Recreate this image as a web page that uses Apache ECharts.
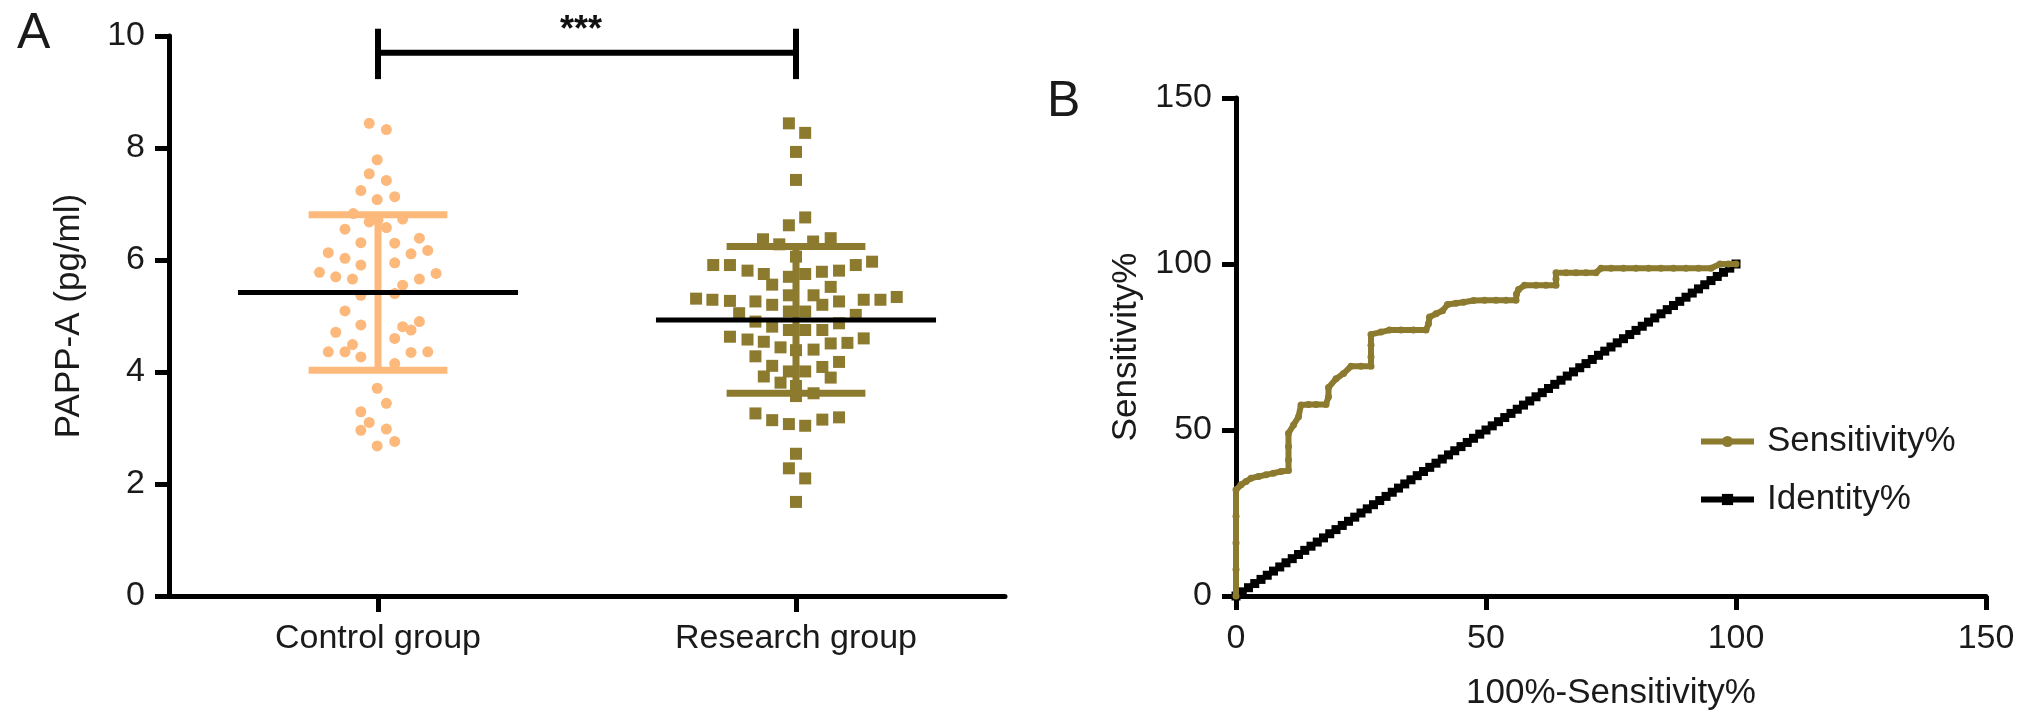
<!DOCTYPE html>
<html>
<head>
<meta charset="utf-8">
<script src="https://cdn.jsdelivr.net/npm/echarts@6/dist/echarts.min.js"></script>
<style>
html,body{margin:0;padding:0;background:#fff;}
#chart{width:2031px;height:727px;}
</style>
</head>
<body>
<div id="chart"></div>
<script>
// ---------- DATA ----------
const categories = ['Control group', 'Research group'];

// Control group dots: [horizontal jitter (category units), value]
const controlPoints = [
  [-0.021,8.44],[0.020,8.33],[-0.002,7.79],[-0.021,7.54],[0.020,7.42],[-0.041,7.24],[-0.002,7.08],[0.040,7.13],
  [-0.059,6.83],[-0.021,6.68],[0.000,6.71],[0.020,6.58],[0.059,6.73],[-0.079,6.55],[-0.041,6.31],[0.040,6.30],
  [0.099,6.39],[-0.119,6.13],[-0.079,6.03],[-0.041,5.91],[0.040,5.95],[0.079,6.11],[0.119,6.17],[-0.140,5.78],
  [-0.101,5.70],[-0.061,5.66],[0.099,5.66],[0.139,5.76],[0.059,5.55],[-0.041,5.37],[0.040,5.40],[-0.079,5.09],
  [-0.041,4.84],[-0.101,4.71],[0.059,4.81],[0.079,4.75],[0.099,4.90],[0.040,4.60],[-0.061,4.49],[-0.119,4.36],
  [-0.079,4.36],[-0.041,4.27],[0.079,4.35],[0.119,4.36],[0.040,4.15],[-0.002,3.71],[0.020,3.44],[-0.041,3.29],
  [-0.021,3.10],[-0.041,2.96],[0.020,2.98],[-0.002,2.68],[0.040,2.76]
];

// Research group squares: [horizontal jitter (category units), value]
const researchPoints = [
  [-0.017,8.44],[0.022,8.27],[0,7.93],[0,7.43],[0.022,6.76],[-0.017,6.62],[-0.079,6.37],[-0.040,6.28],
  [0.041,6.33],[0.083,6.39],[0,6.06],[-0.198,5.91],[-0.158,5.91],[-0.116,5.81],[-0.077,5.75],[0.182,5.97],
  [0.143,5.91],[0.103,5.81],[0.062,5.79],[-0.057,5.56],[-0.017,5.70],[0.022,5.75],[0.083,5.52],[-0.239,5.31],
  [-0.200,5.29],[-0.158,5.27],[-0.097,5.26],[-0.057,5.20],[-0.017,5.37],[0.042,5.37],[0.063,5.20],[0.103,5.26],
  [0.162,5.29],[0.202,5.29],[0.241,5.34],[-0.136,5.05],[-0.017,5.08],[0.022,5.08],[0.143,5.02],[-0.097,4.90],
  [-0.057,4.81],[0.103,4.87],[-0.017,4.75],[0.022,4.75],[0.063,4.75],[-0.158,4.63],[-0.116,4.58],[-0.077,4.54],
  [0.083,4.51],[0.123,4.52],[0.162,4.60],[-0.037,4.44],[0,4.39],[0.042,4.40],[-0.097,4.28],[0.103,4.18],
  [-0.057,4.11],[-0.017,4.01],[0.022,4.01],[0.063,4.09],[-0.077,3.92],[0.083,3.90],[-0.037,3.81],[0,3.75],
  [0,3.57],[0.042,3.62],[-0.097,3.26],[-0.057,3.14],[-0.017,3.07],[0.022,3.04],[0.063,3.15],[0.103,3.19],
  [0,2.54],[-0.017,2.28],[0.022,2.10],[0,1.68]
];

const groupMeans = [5.42, 4.93];
const groupSDs = [1.39, 1.31];

// significance bracket: [y of bar, y of tick bottom, y of tick top, y of text]
const bracketLevels = [9.70, 9.23, 10.13, 10.16];
const bracketLabel = '***';

const yTicksA = [0, 2, 4, 6, 8, 10];
const ticksB = [0, 50, 100, 150];

// ROC curve points [100%-Specificity%, Sensitivity%]
const rocPoints = [
  [0,0],[0,8],[0,16],[0,24],[0,32],[1,33.5],[2,34.5],[3,35.5],[4.5,36],[6,36.5],[7.5,37],[9,37.5],[10.5,37.8],
  [10.5,41],[10.5,45],[10.5,49],[11.5,51.5],[12.5,54],[13,57.5],[14.5,57.7],[16,57.7],[18,57.7],[18.5,60],
  [18.5,62.8],[20,65.4],[21.5,67],[23,69.2],[25,69.2],[27,69.2],[27,72],[27,75.5],[27,78.8],[29,79.5],
  [30.7,80.1],[33,80.1],[35.5,80.1],[38,80.1],[38.5,82],[38.7,84],[40,85],[41.3,85.9],[42.3,87.8],[44,88.2],
  [45.5,88.5],[47.5,89],[49.7,89.1],[52,89.1],[54,89.1],[56,89.1],[56.1,91],[56.5,92.3],[57.7,93.6],[60,93.6],
  [62,93.6],[64,93.6],[64,95.5],[64,97.4],[66,97.4],[68,97.4],[70,97.4],[72,97.4],[73,98.7],[75,98.7],
  [77.5,98.7],[80,98.7],[82.5,98.7],[85,98.7],[87.5,98.7],[90,98.7],[92.5,98.7],[95,98.7],[96.8,100],
  [98.5,100],[100,100]
];

// Identity line values (x = y)
const identityValues = [0,1.25,2.5,3.75,5,6.25,7.5,8.75,10,11.25,12.5,13.75,15,16.25,17.5,18.75,20,21.25,22.5,23.75,
  25,26.25,27.5,28.75,30,31.25,32.5,33.75,35,36.25,37.5,38.75,40,41.25,42.5,43.75,45,46.25,47.5,48.75,
  50,51.25,52.5,53.75,55,56.25,57.5,58.75,60,61.25,62.5,63.75,65,66.25,67.5,68.75,70,71.25,72.5,73.75,
  75,76.25,77.5,78.75,80,81.25,82.5,83.75,85,86.25,87.5,88.75,90,91.25,92.5,93.75,95,96.25,97.5,98.75,100];

// ---------- STYLE ----------
const FONT = "'Liberation Sans', Arial, Helvetica, sans-serif";
const TXT = '#1a1a1a';
const ORANGE = '#FDB87B';
const OLIVE = '#8C7B2F';
const groupColors = [ORANGE, OLIVE];

const chart = echarts.init(document.getElementById('chart'), null, {renderer: 'canvas'});

const axisCommon = {
  axisLine: {show: true, onZero: false, lineStyle: {color: '#000', width: 5}},
  axisTick: {show: true, inside: false, length: 14, lineStyle: {color: '#000', width: 5}},
  splitLine: {show: false},
  axisLabel: {color: TXT, fontSize: 34, fontFamily: FONT, margin: 24},
  nameTextStyle: {color: TXT, fontSize: 35, fontFamily: FONT}
};

const option = {
  animation: false,
  backgroundColor: '#fff',
  textStyle: {fontFamily: FONT},
  title: [
    {text: 'A', left: 12, top: 4, textStyle: {fontSize: 50, fontWeight: 'normal', color: TXT, fontFamily: FONT}},
    {text: 'B', left: 1042, top: 72, textStyle: {fontSize: 50, fontWeight: 'normal', color: TXT, fontFamily: FONT}}
  ],
  legend: {
    show: true,
    orient: 'vertical',
    left: 1693,
    top: 419,
    itemGap: 23,
    itemWidth: 53,
    itemHeight: 14,
    data: ['Sensitivity%', 'Identity%'],
    lineStyle: {width: 6},
    textStyle: {color: TXT, fontSize: 35, fontFamily: FONT, padding: [0, 0, 0, 8]}
  },
  grid: [
    {left: 169, top: 36, width: 836, height: 560, containLabel: false},
    {left: 1236, top: 98, width: 750, height: 498, containLabel: false}
  ],
  xAxis: [
    Object.assign({}, axisCommon, {
      type: 'category', gridIndex: 0, data: categories, boundaryGap: true,
      axisTick: Object.assign({}, axisCommon.axisTick, {alignWithLabel: true, length: 16}),
      axisLabel: Object.assign({}, axisCommon.axisLabel, {margin: 26})
    }),
    {type: 'value', gridIndex: 0, min: 0.5, max: 2.5, show: false},
    Object.assign({}, axisCommon, {
      type: 'value', gridIndex: 1, min: 0, max: 150, interval: 50,
      name: '100%-Sensitivity%', nameLocation: 'middle', nameGap: 80,
      axisLabel: Object.assign({}, axisCommon.axisLabel, {margin: 26})
    })
  ],
  yAxis: [
    Object.assign({}, axisCommon, {
      type: 'value', gridIndex: 0, min: yTicksA[0], max: yTicksA[yTicksA.length - 1], interval: 2,
      name: 'PAPP-A (pg/ml)', nameLocation: 'middle', nameGap: 82, nameRotate: 90
    }),
    Object.assign({}, axisCommon, {
      type: 'value', gridIndex: 1, min: ticksB[0], max: ticksB[ticksB.length - 1], interval: 50,
      name: 'Sensitivity%', nameLocation: 'middle', nameGap: 92, nameRotate: 90
    })
  ],
  series: [
    {
      name: 'Control', type: 'scatter', xAxisIndex: 1, yAxisIndex: 0,
      symbol: 'circle', symbolSize: 11,
      itemStyle: {color: ORANGE, opacity: 1},
      data: controlPoints.map(p => [1 + p[0], p[1]]), z: 2
    },
    {
      name: 'Research', type: 'scatter', xAxisIndex: 1, yAxisIndex: 0,
      symbol: 'rect', symbolSize: 12,
      itemStyle: {color: OLIVE, opacity: 1},
      data: researchPoints.map(p => [2 + p[0], p[1]]), z: 2
    },
    {
      name: 'ErrorBars', type: 'custom', xAxisIndex: 1, yAxisIndex: 0, z: 3,
      data: groupMeans.map((m, i) => [i + 1, m, groupSDs[i], i]),
      renderItem: function (params, api) {
        const x = api.value(0), m = api.value(1), s = api.value(2), idx = api.value(3);
        const col = groupColors[idx];
        const capHalf = 0.166, meanHalf = 0.335;
        const top = api.coord([x, m + s]), bot = api.coord([x, m - s]);
        const tl = api.coord([x - capHalf, m + s]), tr = api.coord([x + capHalf, m + s]);
        const bl = api.coord([x - capHalf, m - s]), br = api.coord([x + capHalf, m - s]);
        const ml = api.coord([x - meanHalf, m]), mr = api.coord([x + meanHalf, m]);
        const st = {stroke: col, lineWidth: 7};
        return {
          type: 'group',
          children: [
            {type: 'line', shape: {x1: top[0], y1: top[1], x2: bot[0], y2: bot[1]}, style: st},
            {type: 'line', shape: {x1: tl[0], y1: tl[1], x2: tr[0], y2: tr[1]}, style: st},
            {type: 'line', shape: {x1: bl[0], y1: bl[1], x2: br[0], y2: br[1]}, style: st},
            {type: 'line', shape: {x1: ml[0], y1: ml[1], x2: mr[0], y2: mr[1]}, style: {stroke: '#000', lineWidth: 5}, z2: 10}
          ]
        };
      }
    },
    {
      name: 'Bracket', type: 'custom', xAxisIndex: 1, yAxisIndex: 0, z: 5, clip: false,
      data: [[1, 2, bracketLevels[0], bracketLevels[1], bracketLevels[2], bracketLevels[3]]],
      renderItem: function (params, api) {
        const x1 = api.value(0), x2 = api.value(1), yb = api.value(2), ylo = api.value(3), yhi = api.value(4), yt = api.value(5);
        const a = api.coord([x1, yb]), b = api.coord([x2, yb]);
        const a1 = api.coord([x1, ylo]), a2 = api.coord([x1, yhi]);
        const b1 = api.coord([x2, ylo]), b2 = api.coord([x2, yhi]);
        const t = api.coord([(x1 + x2) / 2, yt]);
        const st = {stroke: '#000', lineWidth: 6};
        return {
          type: 'group',
          children: [
            {type: 'line', shape: {x1: a[0], y1: a[1], x2: b[0], y2: b[1]}, style: st},
            {type: 'line', shape: {x1: a1[0], y1: a1[1], x2: a2[0], y2: a2[1]}, style: st},
            {type: 'line', shape: {x1: b1[0], y1: b1[1], x2: b2[0], y2: b2[1]}, style: st},
            {type: 'text', x: t[0] - 6, y: t[1] + 4, style: {text: bracketLabel, align: 'center', verticalAlign: 'middle', fontSize: 36, fontFamily: FONT, fontWeight: 'bold', fill: '#111'}}
          ]
        };
      }
    },
    {
      name: 'Identity%', type: 'line', xAxisIndex: 2, yAxisIndex: 1,
      symbol: 'rect', symbolSize: 9, showSymbol: true,
      lineStyle: {color: '#000', width: 5},
      itemStyle: {color: '#000'},
      data: identityValues.map(v => [v, v]), z: 3
    },
    {
      name: 'Sensitivity%', type: 'line', xAxisIndex: 2, yAxisIndex: 1,
      symbol: 'circle', symbolSize: 7, showSymbol: true,
      lineStyle: {color: OLIVE, width: 6},
      itemStyle: {color: OLIVE},
      data: rocPoints, z: 4
    }
  ]
};

chart.setOption(option);
</script>
</body>
</html>
